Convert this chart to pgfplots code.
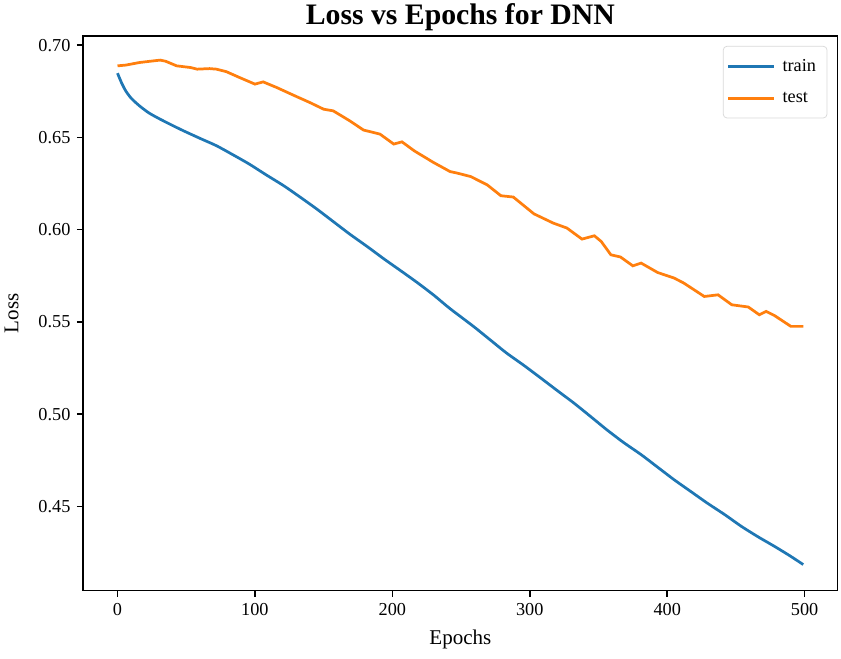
\documentclass[border=0pt]{standalone}
\usepackage{pgfplots}
\pgfplotsset{compat=1.18}
\usepackage{fontspec}
\setmainfont{Liberation Serif}
\definecolor{mplblue}{HTML}{1F77B4}
\definecolor{mplorange}{HTML}{FF7F0E}
\begin{document}
\begin{tikzpicture}
\begin{axis}[
	name=ax,
	scale only axis,
	width=413.3pt, height=303.8pt,
	xmin=-24.95, xmax=523.95,
	ymin=0.4045, ymax=0.7050,
	xtick={0,100,...,500},
	ytick={0.45,0.50,...,0.70},
	yticklabel style={/pgf/number format/.cd,fixed,fixed zerofill,precision=2},
	/pgf/number format/assume math mode=true,
	tick align=outside,
	major tick length=3.5pt,
	tick style={black, line width=0.8pt},
	xtick pos=bottom, ytick pos=left,
	axis line style={line width=0.8pt},
	font=\fontsize{10}{12}\selectfont,
	xlabel={Epochs}, ylabel={Loss},
	xlabel style={font=\fontsize{11.5}{13}\selectfont, yshift=-1pt},
	ylabel style={font=\fontsize{11.5}{13}\selectfont, yshift=4pt},
	title={\bfseries Loss vs Epochs for DNN},
	title style={font=\fontsize{16.3}{18}\selectfont, at={(0.5,1)}, anchor=base, yshift=0pt},
	legend style={at={(0.9865,0.982)}, anchor=north east, draw=black!15,
		rounded corners=2pt, font=\fontsize{10}{12}\selectfont,
		row sep=6pt, inner xsep=2pt, inner ysep=5pt,
		nodes={inner xsep=4pt}},
	legend cell align=left,
	legend image code/.code={\draw[#1] (0pt,0pt) -- (25pt,0pt);},
]
\addplot[mplblue, line width=1.5pt, smooth, tension=0.4] coordinates {
(0,0.6848) (3,0.6795) (6,0.6752) (10,0.6712) (16,0.6671) (23,0.6632)
(31,0.6599) (40,0.6565) (48,0.6536) (60,0.6495) (72,0.6455) (84,0.6406)
(96,0.6355) (108,0.6298) (121,0.6238) (133,0.6176) (145,0.6112) (157,0.6044)
(169,0.5976) (182,0.5907) (194,0.5841) (206,0.5778) (218,0.5714) (230,0.5646)
(242,0.5572) (259,0.5476) (271,0.5404) (283,0.5332) (296,0.5263) (308,0.5196)
(320,0.5128) (332,0.5061) (344,0.4989) (356,0.4916) (368,0.4848) (381,0.4781)
(393,0.4713) (405,0.4645) (417,0.4582) (429,0.4519) (442,0.4455) (454,0.4392)
(466,0.4336) (478,0.4284) (489,0.4234) (499,0.4185)
};
\addplot[mplorange, line width=1.5pt] coordinates {
(0,0.6888) (6,0.6892) (16,0.6906) (24,0.6913) (31,0.6919) (35,0.6913)
(43,0.6888) (53,0.6879) (58,0.6870) (67,0.6873) (72,0.6870) (79,0.6857)
(89,0.6824) (100,0.6789) (106,0.6801) (116,0.6770) (128,0.6729) (140,0.6689)
(150,0.6653) (157,0.6644) (169,0.6590) (179,0.6540) (191,0.6518) (201,0.6464)
(207,0.6476) (216,0.6427) (230,0.6364) (242,0.6315) (247,0.6307) (257,0.6288)
(269,0.6243) (279,0.6184) (288,0.6177) (303,0.6086) (317,0.6036) (327,0.6009)
(338,0.5949) (347,0.5967) (352,0.5936) (359,0.5864) (366,0.5852) (375,0.5804)
(381,0.5819) (393,0.5768) (405,0.5738) (412,0.5711) (427,0.5638) (437,0.5647)
(447,0.5593) (459,0.5581) (467,0.5539) (472,0.5557) (478,0.5535) (490,0.5476)
(499,0.5476)
};
\legend{train,test}
\end{axis}
\pgfresetboundingbox
\path ([shift={(-45.6pt,-37.5pt)}]ax.south west) rectangle ([shift={(1.9pt,19.7pt)}]ax.north east);
\end{tikzpicture}
\end{document}
